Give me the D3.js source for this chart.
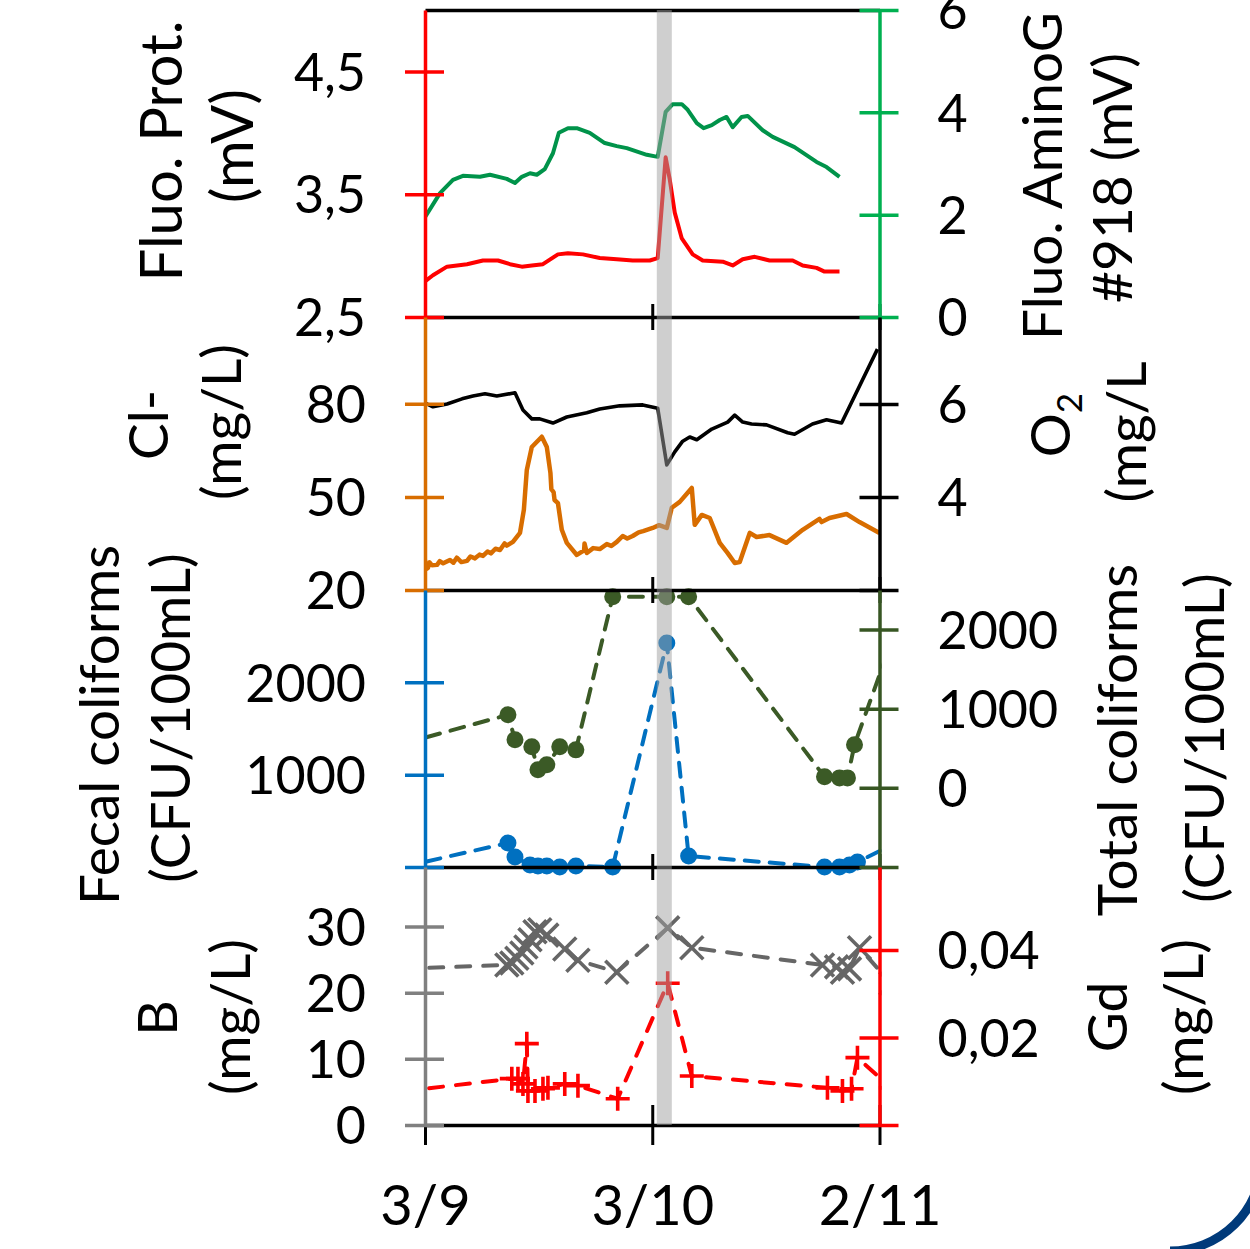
<!DOCTYPE html>
<html>
<head>
<meta charset="utf-8">
<script src="https://cdn.jsdelivr.net/npm/d3@7"></script>
<style>
  body { margin: 0; background: #fff; }
  svg { display: block; }
  text { font-family: Lato, "Open Sans", sans-serif; fill: #000; }
</style>
</head>
<body>
<div class="graph"></div>
<script>
// x in days from the first tick
const xTicks = [0, 1, 2];
const xLabels = ["3/9", "3/10", "2/11"];
const eventBand = [1.02, 1.086];

// panel 1 : fluorescence
const protData = [[0,2.79],[0.035,2.84],[0.097,2.91],[0.185,2.93],[0.255,2.96],[0.321,2.96],[0.374,2.93],[0.426,2.91],[0.47,2.92],[0.519,2.93],[0.585,3.01],[0.629,3.02],[0.695,3.01],[0.769,2.98],[0.844,2.97],[0.914,2.96],[0.989,2.96],[1.024,2.98],[1.059,3.8],[1.077,3.62],[1.099,3.35],[1.13,3.14],[1.178,3.01],[1.222,2.96],[1.31,2.95],[1.354,2.92],[1.398,2.97],[1.451,2.99],[1.516,2.96],[1.618,2.96],[1.662,2.92],[1.723,2.9],[1.758,2.87],[1.824,2.87]];
const aminoData = [[0,1.95],[0.066,2.42],[0.123,2.68],[0.167,2.76],[0.242,2.74],[0.286,2.78],[0.36,2.7],[0.396,2.62],[0.426,2.74],[0.462,2.81],[0.492,2.78],[0.527,2.89],[0.563,3.2],[0.589,3.6],[0.629,3.69],[0.668,3.69],[0.725,3.6],[0.791,3.4],[0.844,3.34],[0.888,3.3],[0.976,3.17],[1.024,3.13],[1.059,4.01],[1.09,4.16],[1.13,4.16],[1.156,4.05],[1.196,3.79],[1.226,3.69],[1.262,3.75],[1.297,3.85],[1.327,3.91],[1.354,3.71],[1.393,3.91],[1.42,3.93],[1.486,3.65],[1.53,3.52],[1.626,3.32],[1.723,3.03],[1.767,2.93],[1.824,2.74]];

// panel 2 : chloride and oxygen
const clData = [[0,29.7],[0.005,26.8],[0.013,27.1],[0.02,28.9],[0.03,28.0],[0.053,28.1],[0.065,29.3],[0.08,28.6],[0.11,29.7],[0.125,28.8],[0.14,30.4],[0.16,29.0],[0.185,29.4],[0.2,30.8],[0.22,30.2],[0.24,31.4],[0.255,31.0],[0.275,32.4],[0.29,31.8],[0.31,33.3],[0.33,32.9],[0.35,35.0],[0.36,34.3],[0.387,35.5],[0.418,38.4],[0.435,45.8],[0.448,58.7],[0.47,66.1],[0.514,69.4],[0.536,66.1],[0.552,57.7],[0.556,52.5],[0.566,51.5],[0.57,49.0],[0.585,48.0],[0.602,39.4],[0.624,35.2],[0.668,31.3],[0.7,32.8],[0.702,35.0],[0.712,31.9],[0.74,33.5],[0.769,33.2],[0.8,34.8],[0.82,34.2],[0.844,35.5],[0.87,37.4],[0.89,36.6],[0.914,37.4],[0.94,38.6],[0.96,39.0],[1.002,40.0],[1.03,40.9],[1.064,40.0],[1.086,46.5],[1.121,48.4],[1.174,52.9],[1.187,41.0],[1.218,44.2],[1.253,43.2],[1.297,35.2],[1.332,31.9],[1.363,28.7],[1.385,29.0],[1.429,38.4],[1.459,37.1],[1.516,37.7],[1.591,35.2],[1.662,39.4],[1.736,42.9],[1.745,41.9],[1.78,43.2],[1.855,44.5],[1.912,41.9],[2.0,38.4]];
const o2Data = [[0,6.02],[0.035,5.94],[0.097,6.0],[0.163,6.11],[0.211,6.17],[0.264,6.22],[0.316,6.17],[0.396,6.24],[0.431,5.87],[0.47,5.68],[0.505,5.68],[0.563,5.59],[0.624,5.72],[0.712,5.81],[0.769,5.89],[0.857,5.96],[0.958,5.98],[1.024,5.91],[1.064,4.69],[1.099,4.97],[1.134,5.2],[1.165,5.29],[1.196,5.23],[1.262,5.46],[1.332,5.61],[1.363,5.76],[1.398,5.61],[1.437,5.57],[1.503,5.55],[1.596,5.38],[1.626,5.35],[1.705,5.57],[1.767,5.66],[1.833,5.59],[1.991,7.18]];

// panel 3 : coliforms (CFU/100mL)
const fecalData = [[-0.1,0],[0.365,260],[0.396,108],[0.462,22],[0.497,11],[0.536,11],[0.593,0],[0.664,11],[0.826,0],[1.064,2427],[1.16,119],[1.758,0],[1.824,0],[1.868,22],[1.903,54],[2.05,233]];
const totalData = [[-0.1,556],[0.365,923],[0.396,607],[0.47,518],[0.497,228],[0.536,291],[0.593,518],[0.664,480],[0.826,2415],[1.064,2415],[1.16,2415],[1.758,139],[1.824,126],[1.859,126],[1.89,544],[2.05,1827]];

// panel 4 : boron and gadolinium (mg/L)
const bData = [[-0.1,23.6],[0.36,24.2],[0.382,24.5],[0.404,25.2],[0.426,26.0],[0.444,26.9],[0.462,28.0],[0.484,29.2],[0.505,29.5],[0.536,28.7],[0.615,26.6],[0.673,24.9],[0.844,23.1],[1.068,29.8],[1.174,26.8],[1.749,24.2],[1.811,23.9],[1.837,23.1],[1.868,23.6],[1.912,26.8],[2.05,21.4]];
const gdData = [[-0.1,0.0077],[0.382,0.0106],[0.409,0.0106],[0.431,0.0094],[0.448,0.0186],[0.453,0.0078],[0.484,0.0078],[0.519,0.0083],[0.541,0.0085],[0.615,0.0094],[0.673,0.009],[0.848,0.006],[1.068,0.0324],[1.174,0.0112],[1.771,0.0085],[1.837,0.0078],[1.877,0.0083],[1.903,0.0154],[2.05,0.0085]];

const W = 1250, H = 1249;
const left = 425, right = 879.5;
const fontSize = 52;
const titleSize = 55;

const svg = d3.select(".graph").append("svg")
  .attr("width", W).attr("height", H);

const x = d3.scaleLinear().domain([0, 2]).range([left, right]);

const panels = [
  { top: 10, bottom: 317,
    yL: { domain: [2.5, 5.0], ticks: [2.5, 3.5, 4.5], labels: [2.5, 3.5, 4.5], color: "#ff0000", fmt: d3.format(".1f") },
    yR: { domain: [0, 6], ticks: [0, 2, 4, 6], labels: [0, 2, 4, 6], color: "#00b050", fmt: d3.format("d") },
    titleL: [["Fluo. Prot.", 182, 151, 58], ["(mV)", 253, 146, 58]],
    titleR: [["Fluo. AminoG", 1062, 176], ["#918 (mV)", 1132, 178]],
    series: [
      { data: protData, axis: "L", color: "#ff0000", width: 4 },
      { data: aminoData, axis: "R", color: "#00934a", width: 4 }
    ] },
  { top: 317, bottom: 590,
    yL: { domain: [20, 108], ticks: [20, 50, 80], labels: [20, 50, 80], color: "#d86d00", fmt: d3.format("d") },
    yR: { domain: [2, 7.87], ticks: [2, 4, 6], labels: [4, 6], color: "#000000", fmt: d3.format("d") },
    titleL: [["Cl-", 168, 425], ["(mg/L)", 241, 422]],
    titleR: [["O2", 1070, 425], ["(mg/L", 1146, 432]],
    series: [
      { data: o2Data, axis: "R", color: "#000000", width: 3.6 },
      { data: clData, axis: "L", color: "#d86d00", width: 4.5 }
    ] },
  { top: 590, bottom: 867,
    yL: { domain: [0, 3000], ticks: [0, 1000, 2000], labels: [1000, 2000], color: "#0070c0", fmt: d3.format("d") },
    yR: { domain: [-1000, 2500], ticks: [-1000, 0, 1000, 2000], labels: [0, 1000, 2000], color: "#375623", fmt: d3.format("d") },
    titleL: [["Fecal coliforms", 119, 725], ["(CFU/100mL)", 190, 718]],
    titleR: [["Total coliforms", 1137, 740], ["(CFU/100mL)", 1224, 738]],
    series: [
      { data: totalData, axis: "R", color: "#3b5a26", width: 4, dash: "14,11", marker: "circle" },
      { data: fecalData, axis: "L", color: "#0070c0", width: 4, dash: "14,11", marker: "circle" }
    ] },
  { top: 867, bottom: 1125,
    yL: { domain: [0, 39], ticks: [0, 10, 20, 30], labels: [0, 10, 20, 30], color: "#808080", fmt: d3.format("d") },
    yR: { domain: [0, 0.059], ticks: [0, 0.02, 0.04], labels: [0.02, 0.04], color: "#ff0000", fmt: d3.format(".2f") },
    titleL: [["B", 177, 1018], ["(mg/L)", 250, 1017]],
    titleR: [["Gd", 1127, 1017], ["(mg/L)", 1203, 1017]],
    series: [
      { data: bData, axis: "L", color: "#666666", width: 4, dash: "14,13", marker: "cross" },
      { data: gdData, axis: "R", color: "#ff0000", width: 4, dash: "14,13", marker: "plus" }
    ] }
];

const dataLayer = svg.append("g");
const xLayer = svg.append("g");
const yLayer = svg.append("g");
const titleLayer = svg.append("g");

const comma = s => s.replace(".", ",");

panels.forEach(function(p, i) {
  p.sL = d3.scaleLinear().domain(p.yL.domain).range([p.bottom, p.top]);
  p.sR = d3.scaleLinear().domain(p.yR.domain).range([p.bottom, p.top]);

  // clip lines that run past the x range
  const clipId = "clip" + i;
  svg.append("clipPath").attr("id", clipId)
    .append("rect")
    .attr("x", left).attr("y", p.top - 20)
    .attr("width", right - left + 2).attr("height", p.bottom - p.top + 40);

  const g = dataLayer.append("g").attr("clip-path", "url(#" + clipId + ")");

  p.series.forEach(function(s) {
    const y = s.axis === "L" ? p.sL : p.sR;
    const line = d3.line().x(d => x(d[0])).y(d => y(d[1]));
    g.append("path")
      .datum(s.data)
      .attr("d", line)
      .attr("fill", "none")
      .attr("stroke", s.color)
      .attr("stroke-width", s.width)
      .attr("stroke-linejoin", "round")
      .attr("stroke-linecap", s.dash ? "round" : "butt")
      .attr("stroke-dasharray", s.dash || null);

    if (s.marker === "circle") {
      g.selectAll(null).data(s.data).enter()
        .append("circle")
        .attr("cx", d => x(d[0])).attr("cy", d => y(d[1]))
        .attr("r", 8.5)
        .attr("fill", s.color);
    } else if (s.marker) {
      const shape = s.marker === "cross"
        ? "M-11.5,-11.5L11.5,11.5M-11.5,11.5L11.5,-11.5"
        : "M-12,0H12M0,-12V12";
      g.selectAll(null).data(s.data).enter()
        .append("path")
        .attr("transform", d => "translate(" + x(d[0]) + "," + y(d[1]) + ")")
        .attr("d", shape)
        .attr("fill", "none")
        .attr("stroke", s.color)
        .attr("stroke-width", 3.6);
    }
  });

  // horizontal black lines with the date ticks
  const last = i === panels.length - 1;
  const xAxis = d3.axisBottom(x).tickValues(xTicks).tickSize(0).tickSizeOuter(0)
    .tickFormat((d, j) => last ? xLabels[j] : "");
  const xg = xLayer.append("g")
    .attr("transform", "translate(0," + p.bottom + ")")
    .call(xAxis);
  xg.select(".domain").attr("stroke", "#000").attr("stroke-width", 3.5);
  xg.selectAll(".tick line")
    .attr("y1", last ? -20 : -13).attr("y2", last ? 20 : 13)
    .attr("stroke", "#000").attr("stroke-width", 3);
  xg.selectAll(".tick text")
    .attr("y", 80).attr("dy", "0.36em")
    .attr("font-size", 56).attr("font-family", "Lato, sans-serif").attr("fill", "#000");

  // left axis
  const aL = d3.axisLeft(p.sL).tickValues(p.yL.ticks).tickSize(0).tickSizeOuter(0).tickPadding(59)
    .tickFormat(d => p.yL.labels.includes(d) ? comma(p.yL.fmt(d)) : "");
  const gl = yLayer.append("g").attr("transform", "translate(" + left + ",0)").call(aL);
  gl.select(".domain").attr("stroke", p.yL.color).attr("stroke-width", 3.5);
  gl.selectAll(".tick line").attr("x1", -20).attr("x2", 19)
    .attr("stroke", p.yL.color).attr("stroke-width", 3.5);
  gl.selectAll(".tick text").attr("font-size", fontSize)
    .attr("font-family", "Lato, sans-serif").attr("fill", "#000").attr("dy", "0.36em");

  // right axis
  const aR = d3.axisRight(p.sR).tickValues(p.yR.ticks).tickSize(0).tickSizeOuter(0).tickPadding(58)
    .tickFormat(d => p.yR.labels.includes(d) ? comma(p.yR.fmt(d)) : "");
  const gr = yLayer.append("g").attr("transform", "translate(" + right + ",0)").call(aR);
  gr.select(".domain").attr("stroke", p.yR.color).attr("stroke-width", 3.5);
  gr.selectAll(".tick line").attr("x1", -20).attr("x2", 19)
    .attr("stroke", p.yR.color).attr("stroke-width", 3.5);
  gr.selectAll(".tick text").attr("font-size", fontSize)
    .attr("font-family", "Lato, sans-serif").attr("fill", "#000").attr("dy", "0.36em");

  // rotated titles
  p.titleL.concat(p.titleR).forEach(function(t) {
    const txt = titleLayer.append("text")
      .attr("transform", "translate(" + t[1] + "," + t[2] + ") rotate(-90)")
      .attr("text-anchor", "middle")
      .attr("font-size", t[3] || titleSize);
    if (t[0] === "O2") {
      txt.append("tspan").text("O");
      txt.append("tspan").text("2").attr("font-size", 35).attr("dy", 12);
    } else {
      txt.text(t[0]);
    }
  });
});

// top border
const topAxis = d3.axisBottom(x).tickValues([]).tickSizeOuter(0);
xLayer.append("g").attr("transform", "translate(0," + panels[0].top + ")")
  .call(topAxis)
  .select(".domain").attr("stroke", "#000").attr("stroke-width", 3.5);

// grey event band, drawn over everything
svg.append("rect")
  .attr("x", x(eventBand[0])).attr("y", panels[0].top)
  .attr("width", x(eventBand[1]) - x(eventBand[0]))
  .attr("height", panels[3].bottom - panels[0].top)
  .attr("fill", "#a0a0a0").attr("opacity", 0.5);

// slide frame corner
svg.append("path")
  .attr("d", "M1170,1251 A92,92 0 0 0 1262,1160")
  .attr("fill", "none").attr("stroke", "#003a7a").attr("stroke-width", 9);
</script>
</body>
</html>
